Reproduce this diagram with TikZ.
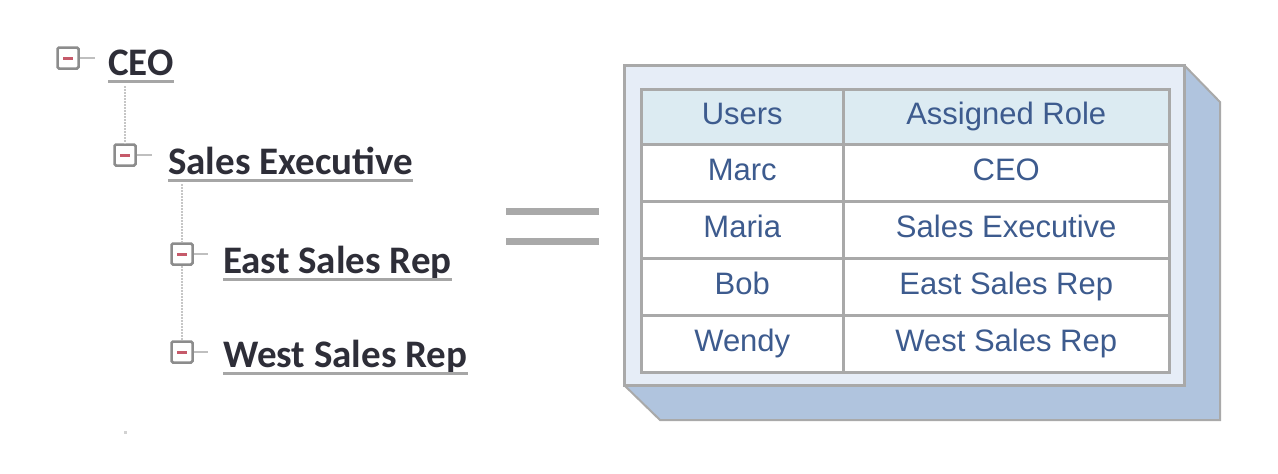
\documentclass[tikz,border=0pt]{standalone}
\usepackage{fontspec}
\setmainfont{Liberation Sans}
\newfontfamily\treefont{Carlito}
\definecolor{tabtext}{HTML}{3D5B8E}
\definecolor{treetext}{HTML}{2E2E38}
\definecolor{linegray}{HTML}{A9A9A9}
\definecolor{icongray}{HTML}{8C8C8C}
\definecolor{minusred}{HTML}{C65A6A}
\definecolor{headfill}{HTML}{DCEBF2}
\definecolor{facefill}{HTML}{E6EDF7}
\definecolor{sidefill}{HTML}{B0C4DE}
\begin{document}
\begin{tikzpicture}[x=1pt,y=-1pt,
    icon/.style={draw=icongray, line width=2.5pt, fill=white, rounded corners=1.5pt,
      minimum size=21pt, inner sep=0pt,
      path picture={\draw[minusred, line width=3pt]
        ([xshift=-5pt]path picture bounding box.center) -- ([xshift=5pt]path picture bounding box.center);}},
    role/.style={anchor=base west, inner sep=0pt, text=treetext,
      font=\treefont\bfseries\fontsize{39}{44}\selectfont},
    uline/.style={draw=gray!70, line width=3pt},
    tline/.style={draw=gray!45, line width=2pt, densely dotted},
    stub/.style={draw=gray!50, line width=2pt},
    cell/.style={draw=linegray, fill=white, line width=2.5pt, anchor=north west, inner sep=0pt,
      text height=22pt, text depth=6pt, minimum height=57pt, text=tabtext,
      font=\fontsize{31}{36}\selectfont},
    head/.style={cell, fill=headfill, minimum height=55pt},
    eqbar/.style={draw=linegray, line width=7pt}]
  \useasboundingbox (0,0) rectangle (1278,474);
  % tree
  \node[icon] (ceoicon) at (68,58) {};
  \node[role] (ceo) at (108,75) {CEO};
  \node[icon] (salesicon) at (125,155) {};
  \node[role] (sales) at (168,174) {Sales Executive};
  \node[icon] (easticon) at (182,254) {};
  \node[role] (east) at (223,273) {East Sales Rep};
  \node[icon] (westicon) at (182,352) {};
  \node[role] (west) at (223,367) {West Sales Rep};
  \foreach \n in {ceo,sales,east,west}
    \draw[uline] ([yshift=-6.5pt]\n.base west) -- ([yshift=-6.5pt]\n.base east);
  \draw[stub, shorten >=13pt] (ceoicon.east) -- (ceoicon.east -| ceo.west);
  \draw[stub, shorten >=16pt] (salesicon.east) -- (salesicon.east -| sales.west);
  \draw[stub, shorten >=15pt] (easticon.east) -- (easticon.east -| east.west);
  \draw[stub, shorten >=15pt] (westicon.east) -- (westicon.east -| west.west);
  \coordinate (c0) at (125,86); \coordinate (c1) at (182,184);
  \draw[tline] (c0) -- (salesicon);
  \draw[tline] (c1) -- (easticon);
  \draw[tline] (easticon) -- (westicon);
  \fill[gray!35] (124,431) rectangle (127,434);
  % equals
  \draw[eqbar] (506,211) -- (599,211);
  \draw[eqbar] (506,241) -- (599,241);
  % box
  \draw[sidefill, fill=sidefill] (1184,65) -- (1220,102) -- (1220,420) -- (660,420) -- (624,385) -- (1184,385) -- cycle;
  \draw[linegray, line width=2pt] (1184,65) -- (1220,102) -- (1220,420) -- (660,420) -- (624,385);
  \draw[linegray, line width=3pt, fill=facefill] (624,65) rectangle (1184,385);
  % table
  \node[head, minimum width=202pt] (h1) at (640,88) {Users};
  \node[head, minimum width=326pt] (h2) at (842,88) {Assigned Role};
  \node[cell, minimum width=202pt] (u1) at (640,143) {Marc};
  \node[cell, minimum width=326pt] (r1) at (842,143) {CEO};
  \node[cell, minimum width=202pt] (u2) at (640,200) {Maria};
  \node[cell, minimum width=326pt] (r2) at (842,200) {Sales Executive};
  \node[cell, minimum width=202pt] (u3) at (640,257) {Bob};
  \node[cell, minimum width=326pt] (r3) at (842,257) {East Sales Rep};
  \node[cell, minimum width=202pt] (u4) at (640,314) {Wendy};
  \node[cell, minimum width=326pt] (r4) at (842,314) {West Sales Rep};
\end{tikzpicture}
\end{document}
